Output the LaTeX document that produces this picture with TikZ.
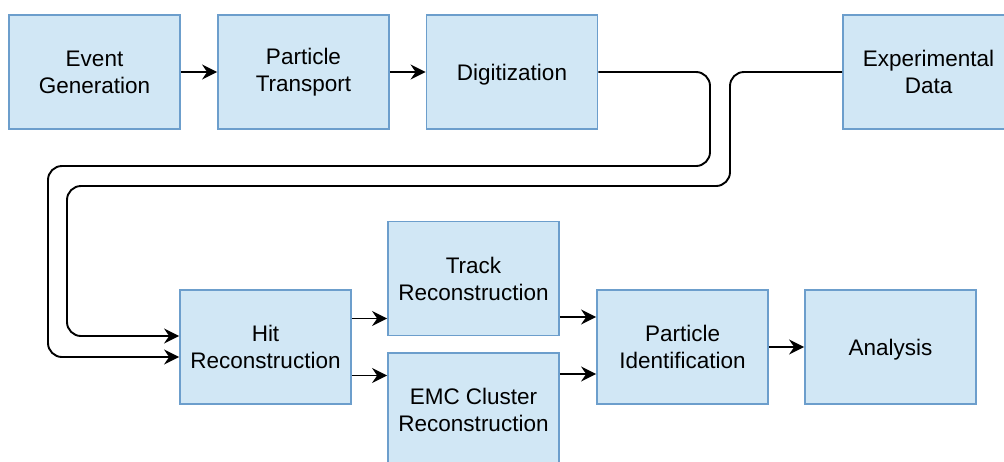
\documentclass[tikz,border=0pt]{standalone}
\usepackage{fontspec}
\setmainfont{Liberation Sans}
\usetikzlibrary{arrows.meta}
\definecolor{boxfill}{RGB}{209,231,245}
\definecolor{boxline}{RGB}{108,158,204}

\begin{document}
\begin{tikzpicture}[x=0.5pt, y=-0.5pt,
  stage/.style={draw=boxline, fill=boxfill, line width=0.9pt, minimum width=85.5pt,
    minimum height=57pt, inner sep=0pt, align=center, font=\fontsize{11.25pt}{13.5pt}\selectfont},
  flow/.style={line width=0.95pt, -{Stealth[length=7.5pt, width=7.5pt, inset=2.5pt]}}]
\clip (0,0) rectangle (1004,461);
% simulation chain
\node[stage] (evgen) at (94.5,72) {Event\\Generation};
\node[stage] (transp) at (303.5,72) {Particle\\Transport};
\node[stage, text depth=0pt] (digi) at (512,72) {Digitization};
\node[stage] (expdata) at (928.5,72) {Experimental\\Data};
% reconstruction
\node[stage] (hitreco) at (265.5,347) {Hit\\Reconstruction};
\node[stage] (trkreco) at (473.5,278.5) {Track\\Reconstruction};
\node[stage] (emcreco) at (473.5,410) {EMC Cluster\\Reconstruction};
\node[stage] (pid) at (682.5,347) {Particle\\Identification};
\node[stage, text depth=0pt] (ana) at (890.5,347) {Analysis};
\draw[flow] (evgen) -- (transp);
\draw[flow] (transp) -- (digi);
\draw[flow, rounded corners=7pt] (digi.east) -- (710,72) -- (710,166) -- (48,166) |- ([yshift=-5pt]hitreco.west);
\draw[flow, rounded corners=7pt] (expdata.west) -- (730,72) -- (730,186) -- (67,186) |- ([yshift=5.5pt]hitreco.west);
\draw[flow] ([yshift=14.25pt]hitreco.east) -- ([yshift=14.25pt]hitreco.east -| trkreco.west);
\draw[flow] ([yshift=-14.25pt]hitreco.east) -- ([yshift=-14.25pt]hitreco.east -| emcreco.west);
\draw[flow] ([yshift=15pt]pid.west -| trkreco.east) -- ([yshift=15pt]pid.west);
\draw[flow] ([yshift=-13.5pt]pid.west -| emcreco.east) -- ([yshift=-13.5pt]pid.west);
\draw[flow] (pid) -- (ana);
\end{tikzpicture}
\end{document}
